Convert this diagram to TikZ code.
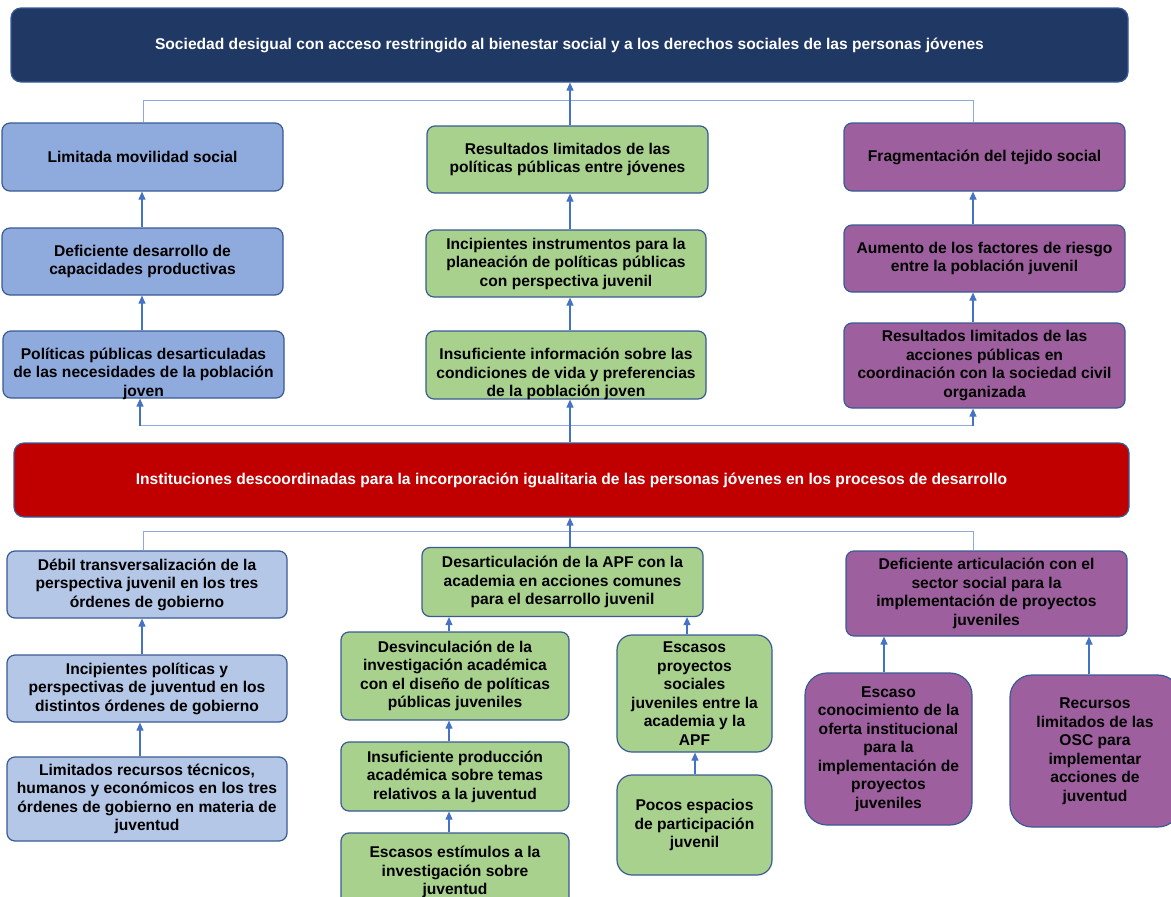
\documentclass[tikz,border=0pt]{standalone}
\usepackage{fontspec}
\setmainfont{Liberation Sans}
\usetikzlibrary{arrows.meta}
\definecolor{navy}{HTML}{203864}
\definecolor{blueA}{HTML}{8FAADC}
\definecolor{blueD}{HTML}{B4C7E7}
\definecolor{greenB}{HTML}{A9D18E}
\definecolor{purpleC}{RGB}{158,95,158}
\definecolor{redI}{HTML}{C00000}
\definecolor{edge}{HTML}{3A5A94}
\definecolor{arrowc}{HTML}{4472C4}
\definecolor{busc}{HTML}{8EAADB}
\tikzset{
  txt/.style={align=center, font=\bfseries\fontsize{15.6}{18.5}\selectfont, text=black},
  bx/.style={draw=edge, line width=1.2pt, rounded corners=8pt, inner sep=1pt, txt},
  big/.style={bx, text=white, rounded corners=10pt},
  lowtxt/.style={txt, yshift=-9pt},
  arr/.style={draw=arrowc, line width=1.1pt, -{Triangle[width=7pt,length=8pt]}},
  bus/.style={draw=busc, line width=1pt},
}
\begin{document}
\begin{tikzpicture}[x=1pt,y=-1pt]
\useasboundingbox (0,0) rectangle (1171,897);
\clip (0,0) rectangle (1171,897);
% x reference coordinates
\coordinate (x140) at (140,0);
\coordinate (x142) at (142,0);
\coordinate (x143) at (143,0);
\coordinate (x570) at (570,0);
\coordinate (x973) at (973,0);
\coordinate (x449) at (449,0);
\coordinate (x687) at (687,0);
\coordinate (x695) at (695,0);
\coordinate (x884) at (884,0);
\coordinate (x1089) at (1089,0);
\coordinate (busT) at (0,100.5);
\coordinate (busM) at (0,425.5);
\coordinate (busL) at (0,531.5);

% top
\node[big, fill=navy, minimum width=1117pt, minimum height=74pt] (top) at (569.5,45)
  {Sociedad desigual con acceso restringido al bienestar social y a los derechos sociales de las personas jóvenes};
% effects
\node[bx, fill=blueA, minimum width=281pt, minimum height=68pt] (A1) at (142.5,157) {Limitada movilidad social};
\node[bx, fill=greenB, minimum width=281pt, minimum height=67pt] (B1) at (567.5,159.5) {Resultados limitados de las\\políticas públicas entre jóvenes};
\node[bx, fill=purpleC, minimum width=281pt, minimum height=68pt] (C1) at (984.5,157) {Fragmentación del tejido social};

\node[bx, fill=blueA, minimum width=281pt, minimum height=67pt] (A2) at (142.5,261.5) {Deficiente desarrollo de\\capacidades productivas};
\node[bx, fill=greenB, minimum width=280pt, minimum height=67pt] (B2) at (566,263.5) {Incipientes instrumentos para la\\planeación de políticas públicas\\con perspectiva juvenil};
\node[bx, fill=purpleC, minimum width=281pt, minimum height=67pt] (C2) at (984.5,258.5) {Aumento de los factores de riesgo\\entre la población juvenil};

\node[bx, fill=blueA, minimum width=281pt, minimum height=67pt,
  label={[lowtxt]center:{Políticas públicas desarticuladas\\de las necesidades de la población\\joven}}] (A3) at (143.5,364.5) {};
\node[bx, fill=greenB, minimum width=280pt, minimum height=68pt,
  label={[lowtxt]center:{Insuficiente información sobre las\\condiciones de vida y preferencias\\de la población joven}}] (B3) at (566,365) {};
\node[bx, fill=purpleC, minimum width=281pt, minimum height=85pt] (C3) at (984.5,365.5) {Resultados limitados de las\\acciones públicas en\\coordinación con la sociedad civil\\organizada};

% central problem
\node[big, fill=redI, minimum width=1115pt, minimum height=74pt] (red) at (571.5,480)
  {Instituciones descoordinadas para la incorporación igualitaria de las personas jóvenes en los procesos de desarrollo};

% causes
\node[bx, fill=blueD, minimum width=280pt, minimum height=67pt] (D1) at (147,584.5) {Débil transversalización de la\\perspectiva juvenil en los tres\\órdenes de gobierno};
\node[bx, fill=greenB, minimum width=281pt, minimum height=69pt] (E1) at (562.5,582) {Desarticulación de la APF con la\\academia en acciones comunes\\para el desarrollo juvenil};
\node[bx, fill=purpleC, minimum width=281pt, minimum height=85pt] (F1) at (986.5,593.5) {Deficiente articulación con el\\sector social para la\\implementación de proyectos\\juveniles};

\node[bx, fill=blueD, minimum width=280pt, minimum height=67pt] (D2) at (147,688.5) {Incipientes políticas y\\perspectivas de juventud en los\\distintos órdenes de gobierno};
\node[bx, fill=blueD, minimum width=280pt, minimum height=84pt] (D3) at (147,799) {Limitados recursos técnicos,\\humanos y económicos en los tres\\órdenes de gobierno en materia de\\juventud};

\node[bx, fill=greenB, minimum width=228pt, minimum height=88pt] (E2) at (455,676) {Desvinculación de la\\investigación académica\\con el diseño de políticas\\públicas juveniles};
\node[bx, fill=greenB, minimum width=228pt, minimum height=69pt] (E4) at (455,776.5) {Insuficiente producción\\académica sobre temas\\relativos a la juventud};
\node[bx, fill=greenB, minimum width=228pt, minimum height=78pt] (E5) at (455,872) {Escasos estímulos a la\\investigación sobre\\juventud};
\node[bx, fill=greenB, rounded corners=15pt, minimum width=155pt, minimum height=117pt] (E3) at (694.5,693.5) {Escasos\\proyectos\\sociales\\juveniles entre la\\academia y la\\APF};
\node[bx, fill=greenB, rounded corners=15pt, minimum width=155pt, minimum height=100pt] (E6) at (694.5,825) {Pocos espacios\\de participación\\juvenil};

\node[bx, fill=purpleC, rounded corners=22pt, minimum width=167pt, minimum height=152pt] (F2) at (888.5,749) {Escaso\\conocimiento de la\\oferta institucional\\para la\\implementación de\\proyectos\\juveniles};
\node[bx, fill=purpleC, rounded corners=22pt, minimum width=170pt, minimum height=152pt] (F3) at (1095,751) {Recursos\\limitados de las\\OSC para\\implementar\\acciones de\\juventud};

% connectors: effects to top
\draw[bus] (A1.north -| x143) -- (x143 |- busT) -- (x973 |- busT) -- (C1.north -| x973);
\draw[arr] (B1.north -| x570) -- (top.south -| x570);
\draw[arr] (A2.north -| x142) -- (A1.south -| x142);
\draw[arr] (B2.north -| x570) -- (B1.south -| x570);
\draw[arr] (C2.north -| x973) -- (C1.south -| x973);
\draw[arr] (A3.north -| x142) -- (A2.south -| x142);
\draw[arr] (B3.north -| x570) -- (B2.south -| x570);
\draw[arr] (C3.north -| x973) -- (C2.south -| x973);
% central problem to effects
\draw[bus] (x140 |- busM) -- (x973 |- busM);
\draw[arr] (red.north -| x570) -- (B3.south -| x570);
\draw[arr] (x140 |- busM) -- (A3.south -| x140);
\draw[arr] (x973 |- busM) -- (C3.south -| x973);
% causes to central problem
\draw[bus] (D1.north -| x143) -- (x143 |- busL) -- (x973 |- busL) -- (F1.north -| x973);
\draw[arr] (E1.north -| x570) -- (red.south -| x570);
\draw[arr] (D2.north -| x142) -- (D1.south -| x142);
\draw[arr] (D3.north -| x140) -- (D2.south -| x140);
\draw[arr] (E2.north -| x449) -- (E1.south -| x449);
\draw[arr] (E3.north -| x687) -- (E1.south -| x687);
\draw[arr] (E4.north -| x449) -- (E2.south -| x449);
\draw[arr] (E5.north -| x449) -- (E4.south -| x449);
\draw[arr] (E6.north -| x695) -- (E3.south -| x695);
\draw[arr] (F2.north -| x884) -- (F1.south -| x884);
\draw[arr] (F3.north -| x1089) -- (F1.south -| x1089);
\end{tikzpicture}
\end{document}
